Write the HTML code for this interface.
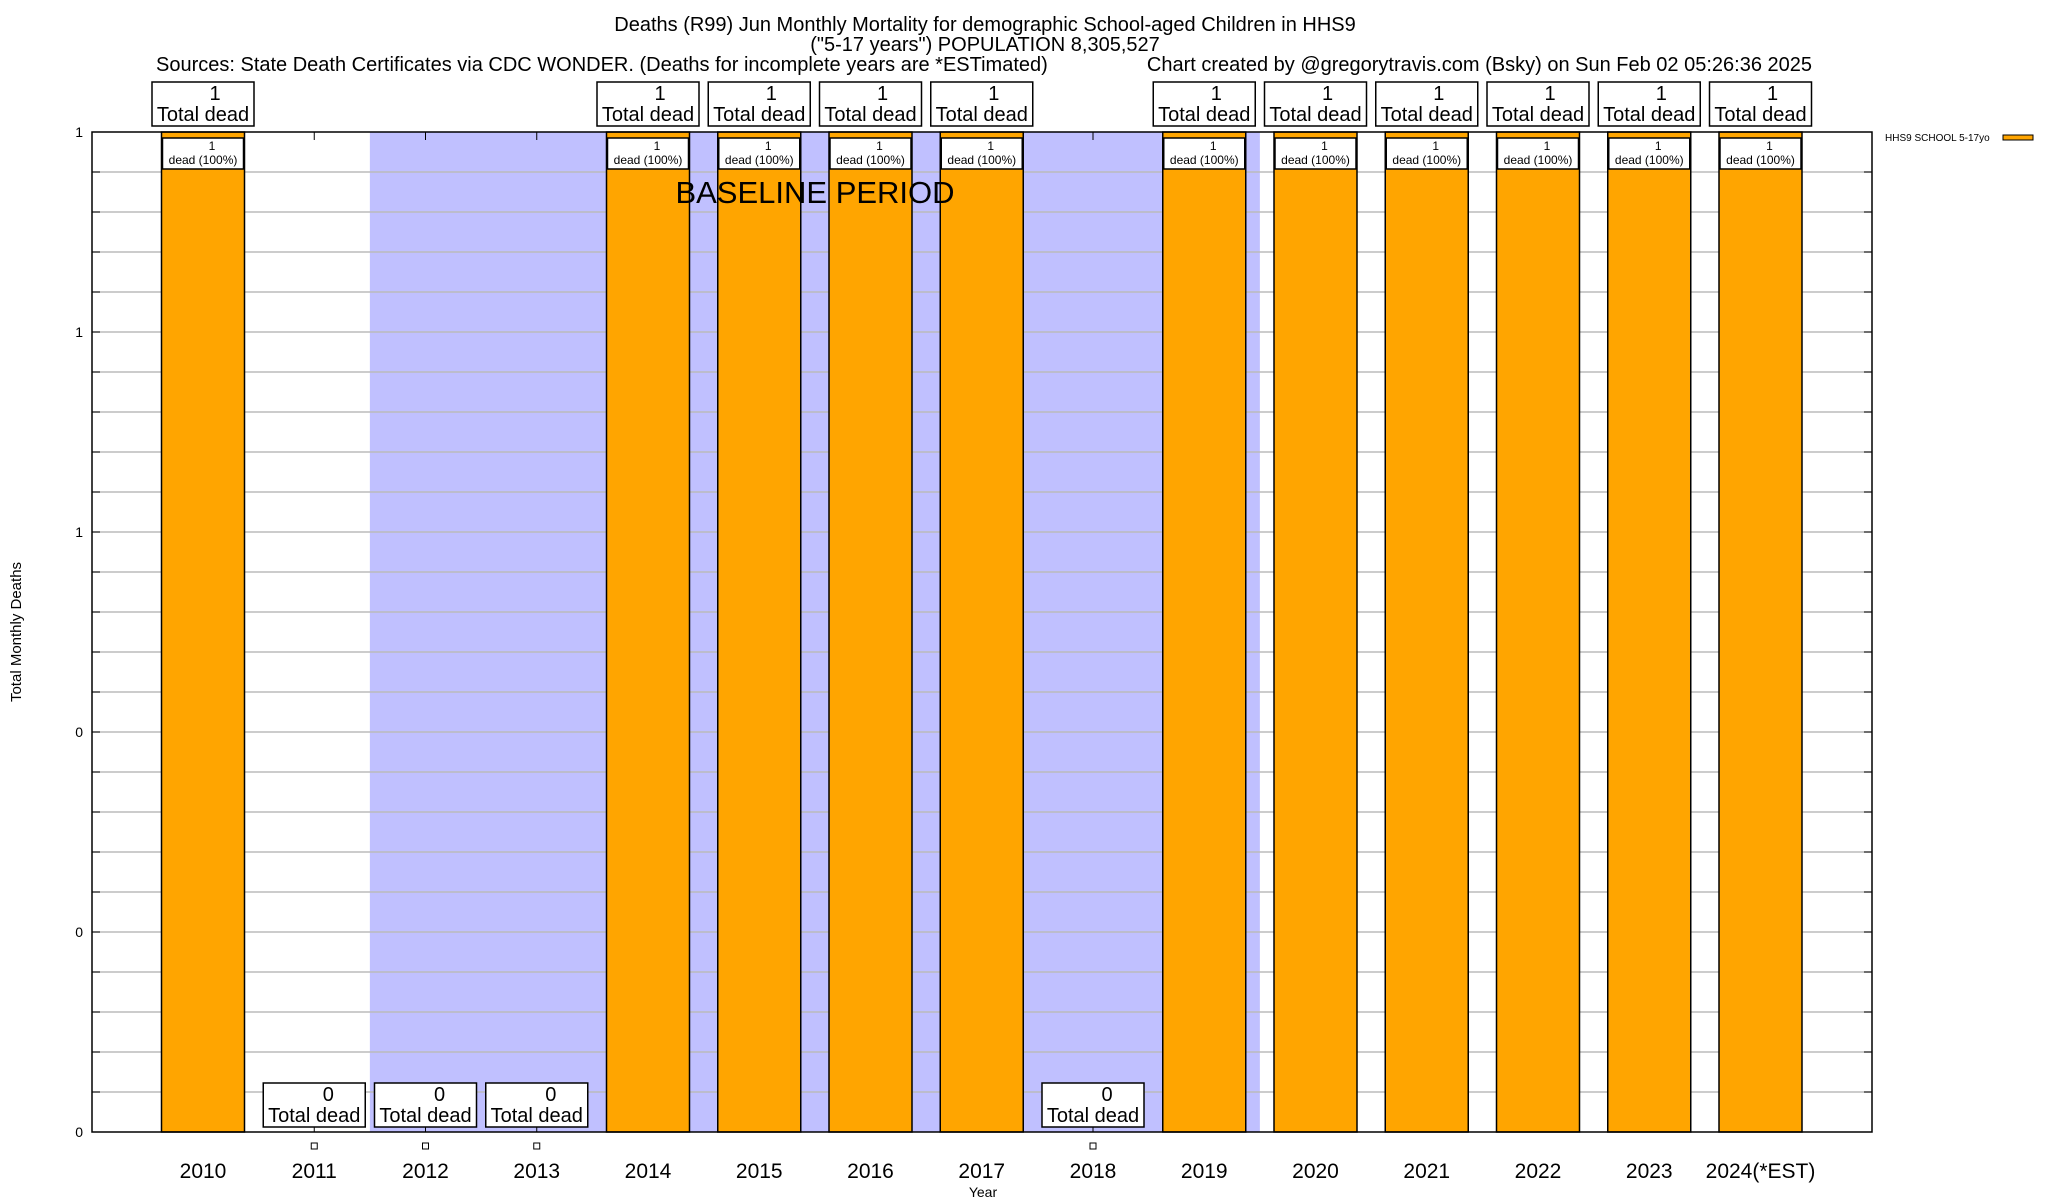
<!DOCTYPE html>
<html><head><meta charset="utf-8"><style>
body{margin:0;background:#fff}
svg{display:block;font-family:"Liberation Sans",sans-serif}
</style></head><body>
<svg id="c" width="2048" height="1200" viewBox="0 0 2048 1200" xmlns="http://www.w3.org/2000/svg">
<text x="985" y="31" font-size="20" text-anchor="middle">Deaths (R99) Jun Monthly Mortality for demographic School-aged Children in HHS9</text>
<text x="985" y="51" font-size="20" text-anchor="middle">("5-17 years") POPULATION 8,305,527</text>
<text x="156" y="71" font-size="20">Sources: State Death Certificates via CDC WONDER. (Deaths for incomplete years are *ESTimated)</text>
<text x="1812" y="71" font-size="20" text-anchor="end">Chart created by @gregorytravis.com (Bsky) on Sun Feb 02 05:26:36 2025</text>
<g id="plot"></g>
</svg>
<script>
const years=["2010","2011","2012","2013","2014","2015","2016","2017","2018","2019","2020","2021","2022","2023","2024(*EST)"];
const deaths=[1,0,0,0,1,1,1,1,0,1,1,1,1,1,1];
const yTickValues=[0,0.2,0.4,0.6,0.8,1];
const yTickLabels=["0","0","0","1","1","1"];
const baselineStart=1.5, baselineEnd=9.5;
const ns="http://www.w3.org/2000/svg";
const L=92,R=1872,T=132,B=1132,yMax=1;
const x0=203,step=111.25,bw=83;
const X=i=>x0+i*step;
const Y=v=>B-(v/yMax)*(B-T);
const g=document.getElementById('plot');
function el(t,a,p){const e=document.createElementNS(ns,t);for(const k in a)e.setAttribute(k,a[k]);(p||g).appendChild(e);return e;}
let bs=el('rect',{x:X(baselineStart),y:T,width:X(baselineEnd)-X(baselineStart),height:B-T,fill:'#c0c0ff'});


for(let k=1;k<25;k++){const y=Y(k*0.04);
 let gl=el('line',{x1:L,x2:R,y1:y,y2:y,stroke:'#bbb','stroke-width':1.5});
 
 
 el('line',{x1:L,x2:L+8,y1:y,y2:y,stroke:'#000'});el('line',{x1:R-8,x2:R,y1:y,y2:y,stroke:'#000'});}
years.forEach((yr,i)=>{
 const cx=X(i);
 el('line',{x1:cx,x2:cx,y1:B,y2:B-8,stroke:'#000'});el('line',{x1:cx,x2:cx,y1:T,y2:T+8,stroke:'#000'});
 if(deaths[i]>0){
  let b=el('rect',{x:cx-bw/2,y:Y(deaths[i]),width:bw,height:B-Y(deaths[i]),fill:'#ffa500',stroke:'#000','stroke-width':1.5});
  
  
  let ib=el('rect',{x:cx-bw/2+1,y:Y(deaths[i])+6,width:bw-2,height:31,fill:'#fff',stroke:'#000','stroke-width':1.5});
  
  
  let t1=el('text',{x:cx+9,y:Y(deaths[i])+18,'font-size':12,'text-anchor':'middle'});t1.textContent=deaths[i];
  let t2=el('text',{x:cx,y:Y(deaths[i])+32,'font-size':12,'text-anchor':'middle'});t2.textContent='dead (100%)';
  let tb=el('rect',{x:cx-51,y:82,width:102,height:44,fill:'#fff',stroke:'#000','stroke-width':1.5});
  
  
  let a=el('text',{x:cx+12,y:100,'font-size':20,'text-anchor':'middle'});a.textContent=deaths[i];
  let c=el('text',{x:cx,y:121,'font-size':20,'text-anchor':'middle'});c.textContent='Total dead';
 } else {
  let tb=el('rect',{x:cx-51,y:1083,width:102,height:44,fill:'#fff',stroke:'#000','stroke-width':1.5});
  
  
  let a=el('text',{x:cx+14,y:1101,'font-size':20,'text-anchor':'middle'});a.textContent=deaths[i];
  let c=el('text',{x:cx,y:1122,'font-size':20,'text-anchor':'middle'});c.textContent='Total dead';
  el('rect',{x:cx-3,y:1143,width:6,height:6,fill:'#fff',stroke:'#000','stroke-width':1});
 }
 let xl=el('text',{x:cx,y:1178,'font-size':21,'text-anchor':'middle'});xl.textContent=yr;
 
 
});
let bt=el('text',{x:815,y:203,'font-size':31,'text-anchor':'middle'});bt.textContent='BASELINE PERIOD';


let fr=el('rect',{x:L,y:T,width:R-L,height:B-T,fill:'none',stroke:'#000','stroke-width':1.5});


yTickValues.forEach((v,i)=>{let t=el('text',{x:83,y:Y(v)+5,'font-size':14,'text-anchor':'end'});t.textContent=yTickLabels[i];
 
 });
let xt=el('text',{x:983,y:1197,'font-size':14,'text-anchor':'middle'});xt.textContent='Year';


let yt=el('text',{x:0,y:0,'font-size':15,'text-anchor':'middle',transform:'translate(21,632) rotate(-90)'});yt.textContent='Total Monthly Deaths';


let lt=el('text',{x:1885,y:141,'font-size':10});lt.textContent='HHS9 SCHOOL 5-17yo';


let ls=el('rect',{x:2003,y:135,width:30,height:5,fill:'#ffa500',stroke:'#000'});


</script>
</body></html>
